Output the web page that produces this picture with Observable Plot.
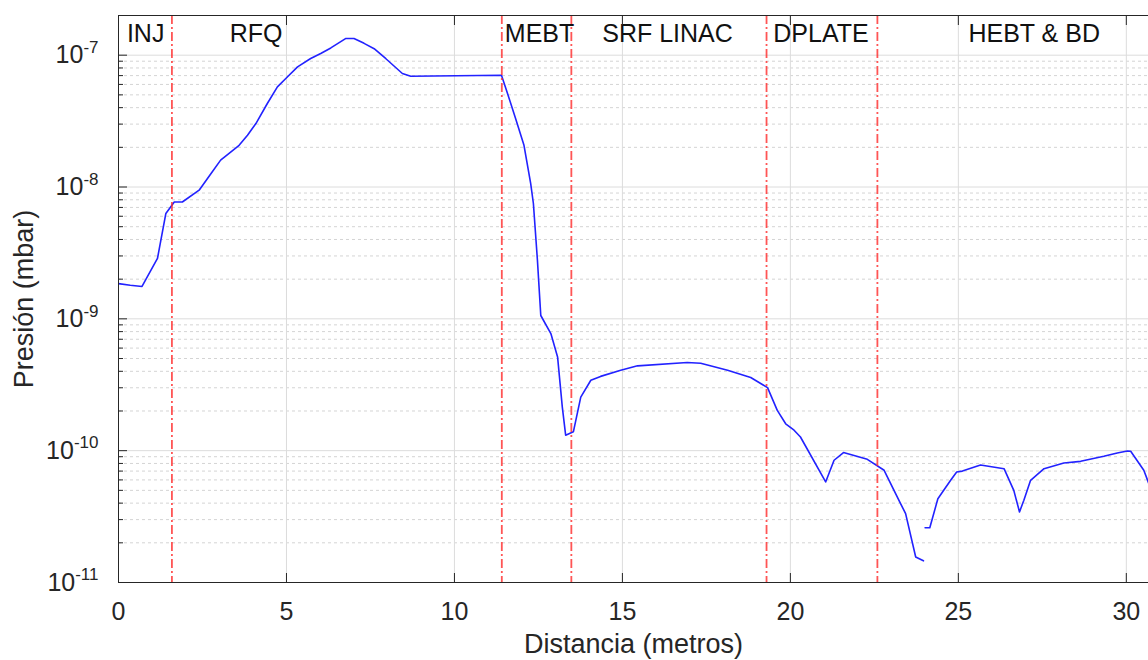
<!DOCTYPE html>
<html>
<head>
<meta charset="utf-8">
<script src="https://cdn.jsdelivr.net/npm/d3@7"></script>
<script src="https://cdn.jsdelivr.net/npm/@observablehq/plot@0.6"></script>
<style>
  html, body { margin: 0; padding: 0; background: #fff; overflow: hidden; }
  #chart { width: 1148px; height: 660px; }
</style>
</head>
<body>
<div id="chart"></div>
<script>
// ---- Data ----
const seg1X = [0, 0.35, 0.7, 1.16, 1.41, 1.66, 1.9, 2.4, 2.75, 3.04, 3.59, 3.84, 4.09, 4.43, 4.73, 4.98, 5.33, 5.72, 6.02, 6.32, 6.77, 7.01, 7.31, 7.61, 7.96, 8.45, 8.7,
  11.4, 11.58, 11.82, 12.07, 12.27, 12.35, 12.47, 12.57, 12.87, 13.07, 13.21, 13.31, 13.54, 13.76, 14.06, 14.35, 14.95, 15.45,
  16.93, 17.33, 18.13, 18.82, 19.32, 19.61, 19.86, 20.11, 20.3, 21.05, 21.3, 21.58, 22.29, 22.79, 23.28, 23.43, 23.73, 23.96];
const seg1Y = [1.85e-9, 1.8e-9, 1.76e-9, 2.87e-9, 6.3e-9, 7.7e-9, 7.7e-9, 9.46e-9, 1.26e-8, 1.6e-8, 2.07e-8, 2.47e-8, 3.03e-8, 4.3e-8, 5.75e-8, 6.66e-8, 8.15e-8, 9.44e-8, 1.03e-7, 1.135e-7, 1.34e-7, 1.34e-7, 1.23e-7, 1.12e-7, 9.4e-8, 7.26e-8, 6.93e-8,
  7.05e-8, 5.13e-8, 3.31e-8, 2.07e-8, 1.06e-8, 7.5e-9, 2.79e-9, 1.06e-9, 7.73e-10, 5.14e-10, 2.15e-10, 1.31e-10, 1.39e-10, 2.55e-10, 3.42e-10, 3.66e-10, 4.07e-10, 4.4e-10,
  4.66e-10, 4.6e-10, 4.07e-10, 3.59e-10, 3.01e-10, 2.02e-10, 1.6e-10, 1.43e-10, 1.27e-10, 5.79e-11, 8.46e-11, 9.67e-11, 8.6e-11, 7.1e-11, 3.97e-11, 3.33e-11, 1.56e-11, 1.46e-11];
const seg2X = [24.01, 24.15, 24.39, 24.77, 24.95, 25.12, 25.66, 26.36, 26.65, 26.82, 26.95, 27.15, 27.55, 28.14, 28.64, 29.33, 29.73, 30.03, 30.13, 30.52, 30.8];
const seg2Y = [2.6e-11, 2.6e-11, 4.32e-11, 5.96e-11, 6.89e-11, 7.0e-11, 7.78e-11, 7.3e-11, 5.0e-11, 3.43e-11, 4.2e-11, 5.96e-11, 7.3e-11, 8.07e-11, 8.3e-11, 9.06e-11, 9.6e-11, 9.95e-11, 9.9e-11, 7.1e-11, 4.6e-11];

const sectionNames = ["INJ", "RFQ", "MEBT", "SRF LINAC", "DPLATE", "HEBT & BD"];
const sectionLabelX = [0.25, 3.31, 11.5, 14.4, 19.49, 25.3];
const boundaries = [1.59, 11.41, 13.48, 19.29, 22.59];

const xTicks = [0, 5, 10, 15, 20, 25, 30];
const yTicks = [1e-11, 1e-10, 1e-9, 1e-8, 1e-7];
const xDomain = [0, 30.66];
const yDomain = [1e-11, 2e-7];
const xLabel = "Distancia (metros)";
const yLabel = "Presión (mbar)";

// ---- Derived tables ----
const lineData = [
  ...seg1X.map((x, i) => ({x, y: seg1Y[i], seg: "a"})),
  ...seg2X.map((x, i) => ({x, y: seg2Y[i], seg: "b"}))
];
const minorTicks = [];
for (const d of yTicks.slice(0, -1)) for (let k = 2; k <= 9; k++) minorTicks.push(d * k);

const axisColor = "#262626";

const plot = Plot.plot({
  width: 1148,
  height: 660,
  marginLeft: 118,
  marginRight: 0,
  marginTop: 15,
  marginBottom: 78,
  style: {fontFamily: "'Liberation Sans', Arial, Helvetica, sans-serif", fontSize: "25px", color: axisColor, background: "#fff"},
  x: {domain: xDomain},
  y: {type: "log", domain: yDomain},
  marks: [
    Plot.ruleY(minorTicks, {stroke: "#d4d4d4", strokeDasharray: "3,3"}),
    Plot.gridX(xTicks, {stroke: "#dcdcdc", strokeOpacity: 1}),
    Plot.gridY(yTicks, {stroke: "#dcdcdc", strokeOpacity: 1}),
    Plot.line(lineData, {x: "x", y: "y", z: "seg", stroke: "#2222ff", strokeWidth: 1.6, clip: true}),
    Plot.ruleX(boundaries, {stroke: "#ff2b2b", strokeOpacity: 0.8, strokeWidth: 1.8, strokeDasharray: "9,3,2,3"}),
    Plot.text(sectionNames, {x: sectionLabelX, frameAnchor: "top", lineAnchor: "middle", dy: 18, textAnchor: "start", fontSize: 25, fill: "#111"}),
    Plot.ruleY([yDomain[1]], {stroke: axisColor}),
    Plot.ruleY([yDomain[0]], {stroke: axisColor}),
    Plot.ruleX([xDomain[0]], {stroke: axisColor}),
    Plot.axisX(xTicks, {anchor: "bottom", tickSize: -9, tickPadding: 29, fontSize: 25, label: null, stroke: axisColor}),
    Plot.axisX(xTicks, {anchor: "top", tickSize: -9, tickFormat: () => "", label: null, stroke: axisColor}),
    Plot.axisY(yTicks, {anchor: "left", tickSize: -9, tickPadding: 29, fontSize: 25, label: null, stroke: axisColor,
      tickFormat: d => "10^" + Math.round(Math.log10(d))}),
    Plot.axisY(minorTicks, {anchor: "left", tickSize: -5, tickFormat: () => "", label: null, stroke: axisColor}),
    Plot.text([xLabel], {frameAnchor: "bottom", lineAnchor: "middle", textAnchor: "middle", dy: 62, fontSize: 27, fill: axisColor}),
    Plot.text([yLabel], {frameAnchor: "left", lineAnchor: "middle", textAnchor: "middle", dx: -94, rotate: -90, fontSize: 27, fill: axisColor})
  ]
});

// superscript exponents on the y tick labels
plot.querySelectorAll('g[aria-label="y-axis tick label"] text').forEach(t => {
  const s = t.textContent;
  if (!s.includes("^")) return;
  const [base, exp] = s.split("^");
  t.textContent = base;
  const ts = document.createElementNS("http://www.w3.org/2000/svg", "tspan");
  ts.setAttribute("font-size", "17");
  ts.setAttribute("dy", "-0.6em");
  ts.textContent = exp;
  t.appendChild(ts);
});

document.getElementById("chart").appendChild(plot);
</script>
</body>
</html>
